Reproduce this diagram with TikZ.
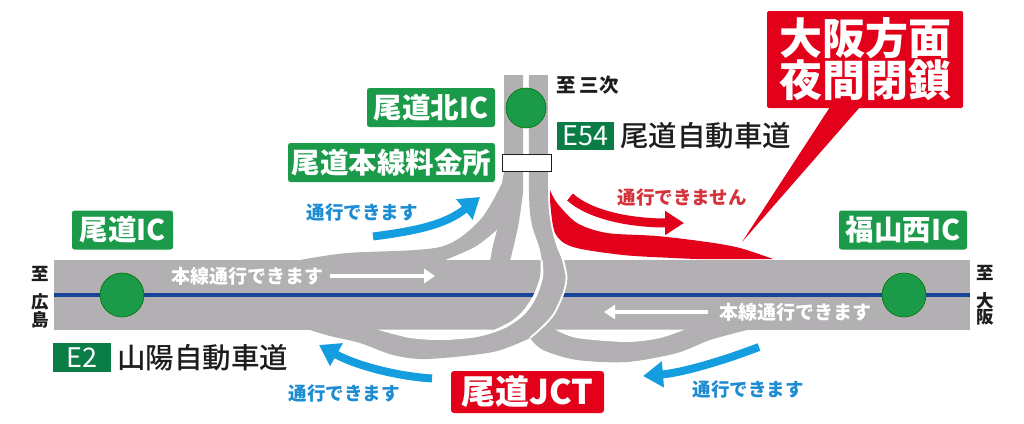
\documentclass[tikz,border=0pt]{standalone}
\usepackage{xcolor}
\usepackage{fontspec}
\usetikzlibrary{arrows.meta,positioning}
\setmainfont{Noto Sans CJK JP}
\newfontfamily\blackjp{Noto Sans CJK JP Black}
\newfontfamily\mediumjp{Noto Sans CJK JP Medium}
\definecolor{greyroad}{RGB}{178,176,178}
\definecolor{blueline}{RGB}{24,68,152}
\definecolor{greenic}{RGB}{27,154,74}
\definecolor{greenroute}{RGB}{10,125,70}
\definecolor{redjct}{RGB}{226,0,26}
\definecolor{redtext}{RGB}{214,50,60}
\definecolor{bluearrow}{RGB}{20,158,224}
\definecolor{bluetext}{RGB}{30,140,210}
\definecolor{inktext}{RGB}{30,28,28}

\begin{document}
\begin{tikzpicture}[
      x=1pt, y=-1pt,
      inner sep=0pt,
      icbox/.style={
        fill=greenic,
        rounded corners=2.5pt,
        minimum height=39pt,
        text=white,
        font=\fontsize{28.5}{30}\selectfont\bfseries
      },
      routebox/.style={
        fill=greenroute,
        minimum height=28.5pt,
        text=white,
        font=\fontsize{27}{28}\selectfont
      },
      routename/.style={
        anchor=west,
        text=inktext,
        font=\fontsize{28.5}{30}\selectfont\mediumjp
      },
      place/.style={
        text=inktext,
        align=center,
        font=\fontsize{17.5}{16}\selectfont\bfseries
      },
      passblue/.style={
        text=bluetext,
        font=\fontsize{18.5}{20}\selectfont\bfseries
      },
      passwhite/.style={
        text=white,
        font=\fontsize{19}{20}\selectfont\bfseries
      },
      icdot/.style={
        circle,
        fill=greenic,
        draw=green!45!black,
        line width=0.6pt
      },
      bluepass/.style={
        draw=bluearrow,
        line width=8pt,
        -{Triangle[length=20pt,width=25pt]}
      },
      whitepass/.style={
        draw=white,
        line width=3.5pt,
        -{Triangle[length=11pt,width=14pt]}
      },
  ]
  \useasboundingbox (0,0) rectangle (1024,423);

  % 1. Roads
  \fill[greyroad] plot[smooth] coordinates {(300,260) (347,253) (440,247) (480,220) (502,183)}
      -- (504,172) -- (504,75) -- (523,75) -- (523,193)
      -- plot[smooth] coordinates {(523,193) (518,227) (510,261)} -- (300,261) -- cycle;
  \fill[white] plot[smooth] coordinates {(443,261) (475,247) (497,230)}
      -- plot[smooth] coordinates {(497,230) (493,245) (490,261)} -- cycle;
  \fill[greyroad] (54,260) rectangle (970,330);
  \draw[blueline, line width=4pt] (54,295) -- (970,295);
  % lower right ramp
  \fill[greyroad] plot[smooth] coordinates {(530,338) (543,350) (577,360) (627,362) (677,353) (710,340) (747,330)}
      -- (747,328) -- (535,328) -- cycle;
  \fill[white] plot[smooth] coordinates {(555,329.5) (577,338) (627,342) (660,338) (685,329.5)} -- cycle;
  % lower left ramp and band over the main road
  \fill[greyroad] plot[smooth] coordinates {(529,75) (529,193) (532,225) (540,250) (543,277) (537,295)}
      -- (500,325) -- (310,328)
      -- plot[smooth] coordinates {(310,330) (330,336) (360,343) (393,355) (427,359) (493,352) (530,338)}
      -- plot[smooth] coordinates {(530,338) (544,325) (554,313) (563,293) (566,277) (562,260) (556,245) (551,225) (548,193) (548,75)}
      -- cycle;
  \fill[white] (377,329.5) -- (495,329.5)
      -- plot[smooth] coordinates {(495,329.5) (510,322) (522,312) (533,296) (540,277) (540.5,260)}
      -- plot[smooth] coordinates {(542.5,260) (543,277) (536,298) (524,315) (504,328.5) (477,337) (443,340) (410,338) (377,329.5)} -- cycle;
  \draw[white, line width=1.8pt] plot[smooth] coordinates {(563,260) (566.5,277) (563.5,293) (554.5,313) (544.5,325) (530,338)};

  % 2. Closed section
  \fill[redjct] plot[smooth] coordinates {(550,190) (557,203) (577,223) (607,233) (657,236) (707,242) (740,248) (773,259)}
      -- plot[smooth] coordinates {(697,259) (673,258) (623,255) (573,247) (555,233) (550,200)} -- cycle;

  % 3. Toll gate and interchanges
  \node[draw=inktext, fill=white, line width=1pt, minimum width=49pt, minimum height=17pt] (tollgate) at (527,163) {};
  \node[icdot, minimum size=40pt] (kitaDot) at (526,108) {};
  \node[icdot, minimum size=44pt] (onomichiDot) at (122,295) {};
  \node[icdot, minimum size=44pt] (fukuyamaDot) at (904,295) {};

  % 4. Labels
  \node[icbox, minimum width=128pt] (kitaIC) at (431,107.5) {尾道北IC};
  \node[icbox, minimum width=207pt] (tollLabel) at (391.5,162.5) {尾道本線料金所};
  \node[icbox, minimum width=101pt] (onomichiIC) at (122.5,230) {尾道IC};
  \node[icbox, minimum width=128pt] (fukuyamaIC) at (903,230) {福山西IC};
  \node[routebox, minimum width=57pt] (routeEfour) at (585.5,136) {E54};
  \node[routename, right=6pt of routeEfour] (routeEfourName) {尾道自動車道};
  \node[routebox, minimum width=58pt] (routeEtwo) at (82,357.5) {E2};
  \node[routename, right=6pt of routeEtwo] (routeEtwoName) {山陽自動車道};
  \node[place, font=\fontsize{19.5}{20}\selectfont\bfseries] (toMiyoshi) at (587.5,85) {至 三次};
  \node[place] (toHiroshima) at (40,297) {至\\[11pt]広\\島};
  \node[place] (toOsaka) at (985,295) {至\\[11pt]大\\阪};

  % 5. Passing directions
  \node[passblue] (passNorth) at (362,212) {通行できます};
  \node[passblue] (passWest) at (344,393) {通行できます};
  \node[passblue] (passEast) at (748,389) {通行できます};
  \node[text=redtext, font=\fontsize{18.5}{20}\selectfont\bfseries] (noPass) at (682,197) {通行できません};
  \node[passwhite] (mainWest) at (247,276) {本線通行できます};
  \node[passwhite] (mainEast) at (795.5,312) {本線通行できます};

  \coordinate (northTail) at (373,236.5);
  \coordinate (northTip) at (480,197);
  \coordinate (westTail) at (432,378.5);
  \coordinate (westTip) at (319,345);
  \coordinate (eastTail) at (759,347);
  \coordinate (eastTip) at (643,376);
  \coordinate (redTail) at (570,197);
  \coordinate (redTip) at (684,223);
  \coordinate (mainWestTip) at (435,276);
  \coordinate (mainEastTip) at (604,312);

  \draw[bluepass] (northTail) .. controls (415,231) and (445,225) .. (northTip);
  \draw[bluepass] (westTail) .. controls (395,376) and (355,365) .. (westTip);
  \draw[bluepass] (eastTail) .. controls (720,362) and (680,373) .. (eastTip);
  \draw[redjct, line width=9pt, -{Triangle[length=19pt,width=23pt]}] (redTail) .. controls (590,215) and (630,223) .. (redTip);
  \draw[whitepass] ([xshift=7pt]mainWest.east) -- (mainWestTip);
  \draw[whitepass] ([xshift=-11pt]mainEast.west) -- (mainEastTip);

  % 6. Callouts
  \fill[redjct] (830,107) -- (742,242) -- (860,107) -- cycle;
  \node[fill=redjct, rounded corners=1.5pt, minimum width=196pt, minimum height=97pt,
    text=white, align=center, font=\fontsize{43}{42}\selectfont\blackjp] (closedLabel) at (865,59.5) {大阪方面\\夜間閉鎖};
  \node[fill=redjct, rounded corners=3pt, minimum width=153pt, minimum height=42pt,
    text=white, font=\fontsize{34}{36}\selectfont\bfseries] (jctLabel) at (527.5,392) {尾道JCT};
\end{tikzpicture}
\end{document}
